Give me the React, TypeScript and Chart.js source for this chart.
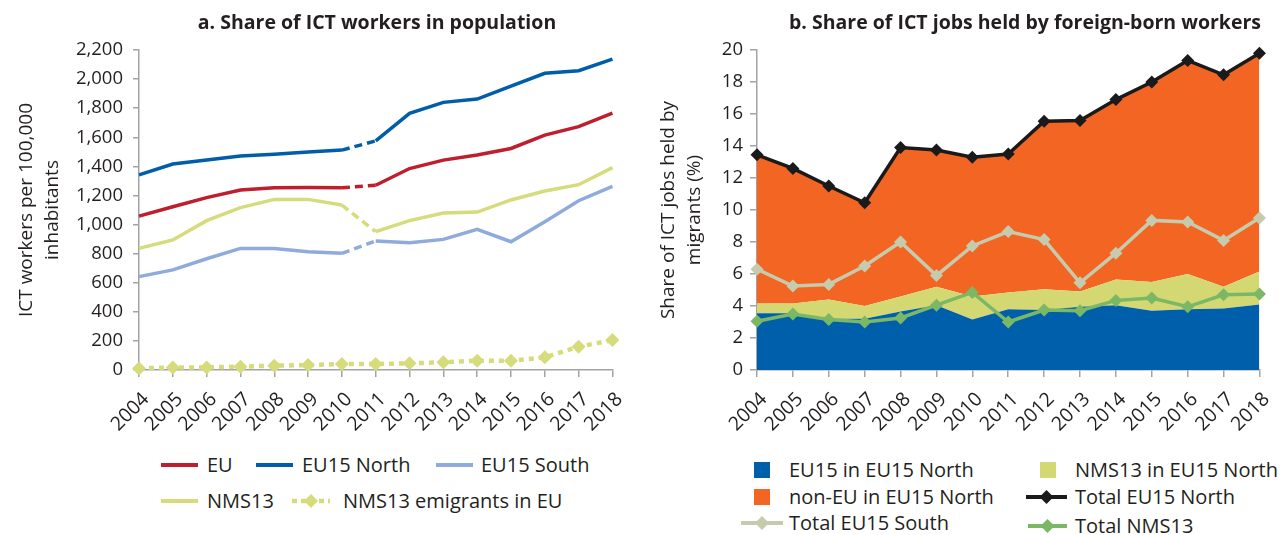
import React, { useEffect, useRef } from 'react';
import { Chart, registerables } from 'chart.js';

Chart.register(...registerables);

// ---------- Data ----------
const years = ['2004', '2005', '2006', '2007', '2008', '2009', '2010', '2011', '2012', '2013', '2014', '2015', '2016', '2017', '2018'];

// Panel a: ICT workers per 100,000 inhabitants
const euValues = [1058, 1122, 1185, 1237, 1253, 1255, 1253, 1270, 1385, 1443, 1478, 1523, 1615, 1673, 1766];
const eu15NorthValues = [1341, 1416, 1444, 1471, 1483, 1498, 1512, 1575, 1765, 1840, 1863, 1952, 2040, 2058, 2137];
const eu15SouthValues = [642, 688, 765, 836, 836, 813, 802, 887, 875, 898, 967, 882, 1020, 1164, 1262];
const nms13Values = [836, 894, 1027, 1116, 1173, 1173, 1134, 951, 1027, 1079, 1086, 1169, 1231, 1274, 1391];
const nms13EmigrantValues = [11, 18, 18, 23, 30, 34, 41, 41, 46, 53, 64, 64, 87, 160, 206];
const leftTicks = { min: 0, max: 2200, step: 200 };

// Panel b: share of ICT jobs held by foreign-born workers (%)
const eu15InNorth = [3.55, 3.55, 3.2, 3.2, 3.65, 4.05, 3.15, 3.8, 3.75, 3.95, 4.05, 3.7, 3.8, 3.85, 4.1];
const nms13InNorth = [0.6, 0.6, 1.2, 0.8, 0.95, 1.15, 1.45, 1.05, 1.3, 0.95, 1.6, 1.8, 2.2, 1.35, 2.05];
const nonEuInNorth = [9.3, 8.45, 7.1, 6.45, 9.3, 8.55, 8.7, 8.65, 10.5, 10.7, 11.25, 12.5, 13.35, 13.25, 13.65];
const totalEu15North = [13.45, 12.6, 11.5, 10.45, 13.9, 13.75, 13.3, 13.5, 15.55, 15.6, 16.9, 18.0, 19.35, 18.45, 19.8];
const totalEu15South = [6.3, 5.25, 5.35, 6.5, 8.0, 5.9, 7.75, 8.65, 8.15, 5.45, 7.3, 9.35, 9.25, 8.1, 9.5];
const totalNms13 = [3.05, 3.5, 3.15, 3.0, 3.25, 4.05, 4.85, 3.0, 3.75, 3.7, 4.35, 4.5, 3.95, 4.7, 4.75];
const rightTicks = { min: 0, max: 20, step: 2 };

// ---------- Styles ----------
const FONT = '"Open Sans", "Noto Sans", sans-serif';
const TEXT = '#231F20';
const AXIS = '#A3A3A3';
const C_EU = '#BE1E2D';
const C_NORTH = '#005DAA';
const C_SOUTH = '#8FAADC';
const C_NMS = '#D6DB7B';
const C_BLUE = '#005FAA';
const C_ORANGE = '#F26522';
const C_LGREEN = '#D4D873';
const C_BLACK = '#1A1A1A';
const C_TSOUTH = '#C6CBAE';
const C_TNMS = '#7BB866';

const tickFont = { family: FONT, size: 18.5 };
const xTickFont = { family: FONT, size: 19.5 };
const titleFont = { family: FONT, size: 19, lineHeight: 1.38 };

function xScale() {
  return {
    offset: false,
    grid: { display: true, drawOnChartArea: false, drawTicks: true, tickLength: 7, color: AXIS, lineWidth: 1.5 },
    border: { display: true, color: AXIS, width: 1.5 },
    ticks: { autoSkip: false, minRotation: 45, maxRotation: 45, color: TEXT, font: xTickFont, padding: 11, labelOffset: 7 },
    afterFit: (s: any) => { s.height = 75; },
  };
}

function LeftChart() {
  const ref = useRef<HTMLCanvasElement>(null);
  useEffect(() => {
    const seg = { borderDash: (ctx: any) => (ctx.p0DataIndex === 6 ? [8, 5] : undefined) };
    const line = (label: string, data: number[], color: string) => ({
      label, data, borderColor: color, backgroundColor: color, borderWidth: 3.5,
      pointRadius: 0, tension: 0, fill: false, borderCapStyle: 'butt', segment: seg,
    });
    const chart = new Chart(ref.current as HTMLCanvasElement, {
      type: 'line',
      data: {
        labels: years,
        datasets: [
          line('EU', euValues, C_EU),
          line('EU15 North', eu15NorthValues, C_NORTH),
          line('EU15 South', eu15SouthValues, C_SOUTH),
          line('NMS13', nms13Values, C_NMS),
          {
            label: 'NMS13 emigrants in EU', data: nms13EmigrantValues, borderColor: C_NMS, backgroundColor: C_NMS,
            borderWidth: 4.5, borderDash: [5, 5], borderCapStyle: 'butt', pointStyle: 'rectRot', pointRadius: 7,
            pointBorderWidth: 0, tension: 0, fill: false, clip: false,
          },
        ] as any,
      },
      options: {
        responsive: false, animation: false, devicePixelRatio: 1, locale: 'en-US',
        layout: { padding: { top: 50, right: 25, left: 0, bottom: 0 } },
        plugins: { legend: { display: false }, tooltip: { enabled: false } },
        scales: {
          x: xScale() as any,
          y: {
            min: leftTicks.min, max: leftTicks.max,
            grid: { display: true, drawOnChartArea: false, drawTicks: true, tickLength: 6, color: AXIS, lineWidth: 1.5 },
            border: { display: true, color: AXIS, width: 1.5 },
            ticks: { stepSize: leftTicks.step, color: TEXT, font: tickFont, padding: 10 },
            title: { display: true, text: ['ICT workers per 100,000', 'inhabitants'], color: TEXT, font: titleFont, padding: { top: 13, bottom: 0 } },
            afterFit: (s: any) => { s.width = 139; },
          } as any,
        },
      },
    });
    return () => chart.destroy();
  }, []);
  return <canvas ref={ref} width={640} height={445} style={{ position: 'absolute', left: 0, top: 0 }} />;
}

function RightChart() {
  const ref = useRef<HTMLCanvasElement>(null);
  useEffect(() => {
    const area = (label: string, data: number[], color: string, fill: string) => ({
      label, data, backgroundColor: color, borderColor: color, borderWidth: 0, pointRadius: 0,
      tension: 0, fill, stack: 'areas', order: 10,
    });
    const mline = (label: string, data: number[], color: string, order: number, key: string) => ({
      label, data, borderColor: color, backgroundColor: color, borderWidth: 3.5, pointStyle: 'rectRot',
      pointRadius: 6.5, pointBorderWidth: 0, tension: 0, fill: false, stack: key, order, clip: false,
    });
    const chart = new Chart(ref.current as HTMLCanvasElement, {
      type: 'line',
      data: {
        labels: years,
        datasets: [
          area('EU15 in EU15 North', eu15InNorth, C_BLUE, 'origin'),
          area('NMS13 in EU15 North', nms13InNorth, C_LGREEN, '-1'),
          area('non-EU in EU15 North', nonEuInNorth, C_ORANGE, '-1'),
          mline('Total EU15 North', totalEu15North, C_BLACK, 3, 's1'),
          mline('Total EU15 South', totalEu15South, C_TSOUTH, 2, 's2'),
          mline('Total NMS13', totalNms13, C_TNMS, 1, 's3'),
        ] as any,
      },
      options: {
        responsive: false, animation: false, devicePixelRatio: 1, locale: 'en-US',
        layout: { padding: { top: 50, right: 17, left: 0, bottom: 0 } },
        plugins: { legend: { display: false }, tooltip: { enabled: false } },
        scales: {
          x: xScale() as any,
          y: {
            stacked: true,
            min: rightTicks.min, max: rightTicks.max,
            grid: { display: true, drawOnChartArea: false, drawTicks: true, tickLength: 7, color: AXIS, lineWidth: 1.5 },
            border: { display: true, color: AXIS, width: 1.5 },
            ticks: { stepSize: rightTicks.step, color: TEXT, font: tickFont, padding: 7 },
            title: { display: true, text: ['Share of ICT jobs held by', 'migrants (%)'], color: TEXT, font: titleFont, padding: { top: 15, bottom: 0 } },
            afterFit: (s: any) => { s.width = 117; },
          } as any,
        },
      },
    });
    return () => chart.destroy();
  }, []);
  return <canvas ref={ref} width={647} height={445} style={{ position: 'absolute', left: 640, top: 0 }} />;
}

// ---------- Legend pieces ----------
const legendText: React.CSSProperties = {
  position: 'absolute', fontFamily: FONT, fontSize: 20, lineHeight: '28px', color: TEXT, whiteSpace: 'nowrap',
};

function Label({ x, y, text }: { x: number; y: number; text: string }) {
  return <span style={{ ...legendText, left: x, top: y - 14 }}>{text}</span>;
}

function LineSwatch({ x, y, w, color, width = 4, dash, diamond }: { x: number; y: number; w: number; color: string; width?: number; dash?: string; diamond?: boolean }) {
  const h = 20;
  const cx = w / 2;
  return (
    <svg width={w} height={h} style={{ position: 'absolute', left: x, top: y - h / 2 }}>
      <line x1={0} y1={h / 2} x2={w} y2={h / 2} stroke={color} strokeWidth={width} strokeDasharray={dash} />
      {diamond ? <polygon points={`${cx},${h / 2 - 7} ${cx + 7},${h / 2} ${cx},${h / 2 + 7} ${cx - 7},${h / 2}`} fill={color} /> : null}
    </svg>
  );
}

function Square({ x, y, color }: { x: number; y: number; color: string }) {
  return <div style={{ position: 'absolute', left: x, top: y - 8, width: 16, height: 16, background: color }} />;
}

const titleStyle: React.CSSProperties = {
  position: 'absolute', top: 8, fontFamily: FONT, fontWeight: 700, fontSize: 19.5, lineHeight: '28px', color: TEXT,
  whiteSpace: 'nowrap', transform: 'translateX(-50%)',
};

export default function App() {
  return (
    <div style={{ position: 'fixed', left: 0, top: 0, width: 1287, height: 535, background: '#fff', overflow: 'hidden' }}>
      <LeftChart />
      <RightChart />
      <div style={{ ...titleStyle, left: 377 }}>a. Share of ICT workers in population</div>
      <div style={{ ...titleStyle, left: 1025 }}>b. Share of ICT jobs held by foreign-born workers</div>

      {/* Legend a */}
      <LineSwatch x={161} y={465} w={37} color={C_EU} />
      <Label x={207} y={465} text="EU" />
      <LineSwatch x={256} y={465} w={37} color={C_NORTH} />
      <Label x={302} y={465} text="EU15 North" />
      <LineSwatch x={436} y={465} w={37} color={C_SOUTH} />
      <Label x={481} y={465} text="EU15 South" />
      <LineSwatch x={161} y={501} w={37} color={C_NMS} />
      <Label x={207} y={501} text="NMS13" />
      <LineSwatch x={292} y={501} w={38} color={C_NMS} width={4.5} dash="5 4" diamond />
      <Label x={343} y={501} text="NMS13 emigrants in EU" />

      {/* Legend b */}
      <Square x={754} y={470} color={C_BLUE} />
      <Label x={789} y={470} text="EU15 in EU15 North" />
      <Square x={1040} y={470} color={C_LGREEN} />
      <Label x={1075} y={470} text="NMS13 in EU15 North" />
      <Square x={754} y={497} color={C_ORANGE} />
      <Label x={789} y={497} text="non-EU in EU15 North" />
      <LineSwatch x={1026} y={497} w={41} color={C_BLACK} width={4} diamond />
      <Label x={1075} y={497} text="Total EU15 North" />
      <LineSwatch x={741} y={523} w={42} color={C_TSOUTH} width={4} diamond />
      <Label x={789} y={523} text="Total EU15 South" />
      <LineSwatch x={1028} y={526} w={39} color={C_TNMS} width={4} diamond />
      <Label x={1075} y={526} text="Total NMS13" />
    </div>
  );
}
